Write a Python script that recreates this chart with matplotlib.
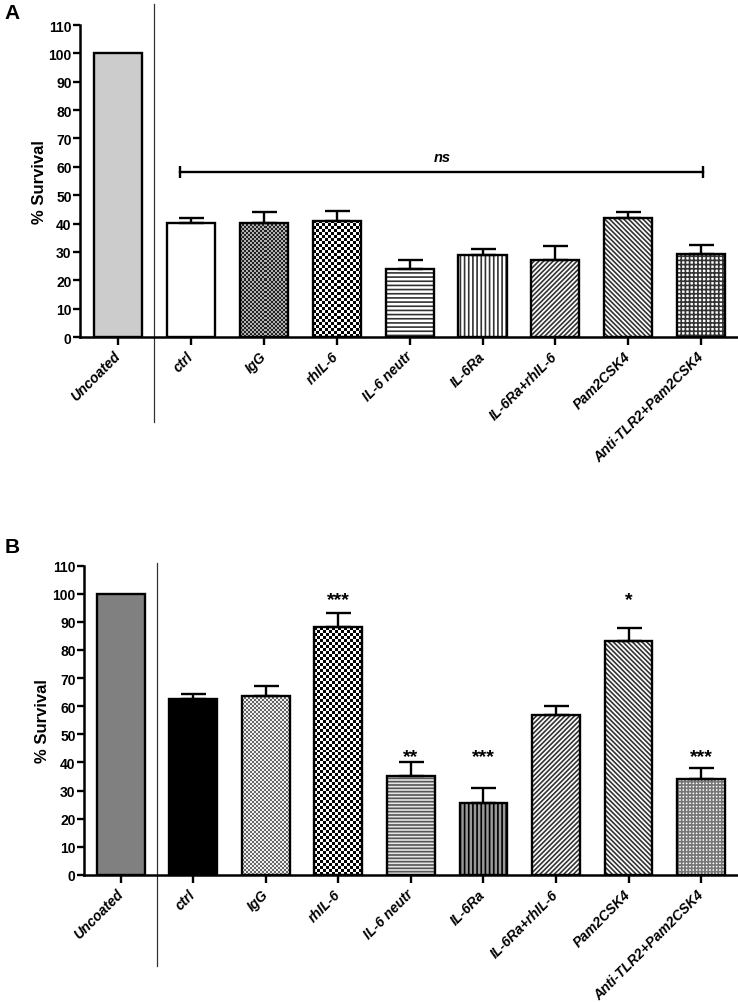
import numpy as np
import matplotlib
matplotlib.use('Agg')
import matplotlib.pyplot as plt
from matplotlib.colors import to_rgb

plt.rcParams['font.family'] = ['Liberation Sans', 'DejaVu Sans']
plt.rcParams['hatch.linewidth'] = 1.2

# data
labels = ['Uncoated', 'ctrl', 'IgG', 'rhIL-6', 'IL-6 neutr', 'IL-6Ra',
          'IL-6Ra+rhIL-6', 'Pam2CSK4', 'Anti-TLR2+Pam2CSK4']
a_mean = [100, 40.1, 40.3, 41.0, 23.8, 29.0, 27.0, 42.0, 29.3]
a_err = [0, 1.9, 3.7, 3.5, 3.3, 2.1, 5.1, 1.9, 3.0]
b_mean = [100, 62.6, 63.7, 88.0, 35.3, 25.6, 56.9, 83.1, 34.1]
b_err = [0, 1.7, 3.4, 5.0, 4.9, 5.3, 3.1, 4.6, 3.9]
b_stars = ['', '', '', '***', '**', '***', '', '*', '***']
b_star_y = [0, 0, 0, 97.8, 42.0, 42.0, 0, 97.8, 42.0]
ns_y = 58

# bar looks: (facecolor, hatch, hatch colour, checker cell px, checker colours)
a_style = [('#cccccc', None, None, 0, None),
           ('white', None, None, 0, None),
           ('white', None, None, 2, ('#222222', '#b0b0b0')),
           ('white', None, None, 3, ('black', 'white')),
           ('white', '----', '#333333', 0, None),
           ('white', '||||', '#333333', 0, None),
           ('white', '///////', '#333333', 0, None),
           ('white', '\\\\\\\\\\\\\\', '#333333', 0, None),
           ('white', '++++', '#333333', 0, None)]
b_style = [('#808080', None, None, 0, None),
           ('black', None, None, 0, None),
           ('white', None, None, 2, ('#666666', '#eeeeee')),
           ('white', None, None, 3, ('black', 'white')),
           ('#e6e6e6', '-----', '#555555', 0, None),
           ('#999999', '||||', 'black', 0, None),
           ('white', '///////', '#333333', 0, None),
           ('white', '\\\\\\\\\\\\\\', '#333333', 0, None),
           ('white', '+++++', '#777777', 0, None)]

W = 0.66


def checker(ax, x, h, cell, cols, patch):
    p0 = ax.transData.transform((0, 0))
    p1 = ax.transData.transform((1, 1))
    ncol = max(1, int(round(W * (p1[0] - p0[0]) / cell)))
    nrow = max(1, int(round(h * (p1[1] - p0[1]) / cell)))
    grid = np.add.outer(np.arange(nrow), np.arange(ncol)) % 2
    img = np.where(grid[..., None] == 0, to_rgb(cols[0]), to_rgb(cols[1]))
    im = ax.imshow(img, extent=(x - W / 2, x + W / 2, 0, h), interpolation='nearest',
                   aspect='auto', zorder=1.5)
    im.set_clip_path(patch)


def panel(rect, means, errs, styles, xlim, ylabel_x):
    ax = fig.add_axes(rect)
    ax.set_xlim(*xlim)
    ax.set_ylim(0, 110)
    x = np.arange(len(labels))
    for i in range(len(labels)):
        fc, hatch, hc, cell, cols = styles[i]
        if hatch:
            b = ax.bar(x[i], means[i], W, color=fc, hatch=hatch, edgecolor=hc,
                       linewidth=0, zorder=1)
        else:
            b = ax.bar(x[i], means[i], W, color=fc, linewidth=0, zorder=1)
        if cell:
            checker(ax, x[i], means[i], cell, cols, b.patches[0])
        ax.bar(x[i], means[i], W, facecolor='none', edgecolor='black', linewidth=1.7, zorder=3)
    e = np.array(errs, dtype=float)
    m = e > 0
    ax.errorbar(x[m], np.array(means)[m], yerr=[np.zeros(m.sum()), e[m]], fmt='none',
                ecolor='black', elinewidth=1.7, capsize=9, capthick=1.7, zorder=2)
    ax.set_xlim(*xlim)
    ax.set_ylim(0, 110)
    ax.set_yticks(np.arange(0, 111, 10))
    ax.set_xticks(x)
    ax.set_xticklabels(labels, rotation=45, ha='right', va='center', rotation_mode='anchor',
                       fontsize=10, fontweight='bold', fontstyle='italic')
    for t in ax.get_yticklabels():
        t.set_fontweight('bold')
        t.set_fontsize(10)
    ax.tick_params(axis='y', length=5, width=1.7, pad=1)
    ax.tick_params(axis='x', length=6, width=1.7, pad=6)
    for s in ['top', 'right']:
        ax.spines[s].set_visible(False)
    for s in ['left', 'bottom']:
        ax.spines[s].set_linewidth(1.8)
    ax.set_ylabel('% Survival', fontsize=12, fontweight='bold')
    ax.yaxis.set_label_coords(ylabel_x, 0.5)
    return ax


fig = plt.figure(figsize=(7.38, 10.03), dpi=100)

axA = panel([80 / 738, 1 - 338 / 1003, 657 / 738, 312 / 1003], a_mean, a_err, a_style,
            (-0.52, 8.49), -0.050)
axA.plot([0.5, 0.5], [117.5, -30], color='#333333', lw=0.9, clip_on=False, zorder=0)
axA.plot([0.85, 8.02], [ns_y, ns_y], color='black', lw=1.7, zorder=2)
axA.plot([0.85, 8.02], [ns_y, ns_y], ls='none', marker='|', ms=9, mew=1.7, color='black')
axA.text(4.45, ns_y + 5.5, 'ns', ha='center', va='center', fontsize=10.5,
         fontweight='bold', fontstyle='italic')

axB = panel([84 / 738, 1 - 876 / 1003, 653 / 738, 309.4 / 1003], b_mean, b_err, b_style,
            (-0.506, 8.495), -0.052)
axB.plot([0.5, 0.5], [111, -32.3], color='#333333', lw=0.9, clip_on=False, zorder=0)
for i, s in enumerate(b_stars):
    if s:
        axB.text(i, b_star_y[i], s, ha='center', va='center', fontsize=14, fontweight='bold')

fig.text(0.006, 0.996, 'A', fontsize=15, fontweight='bold', va='top', ha='left')
fig.text(0.006, 1 - 538 / 1003, 'B', fontsize=15, fontweight='bold', va='top', ha='left')

fig.savefig('out.png', dpi=100)
